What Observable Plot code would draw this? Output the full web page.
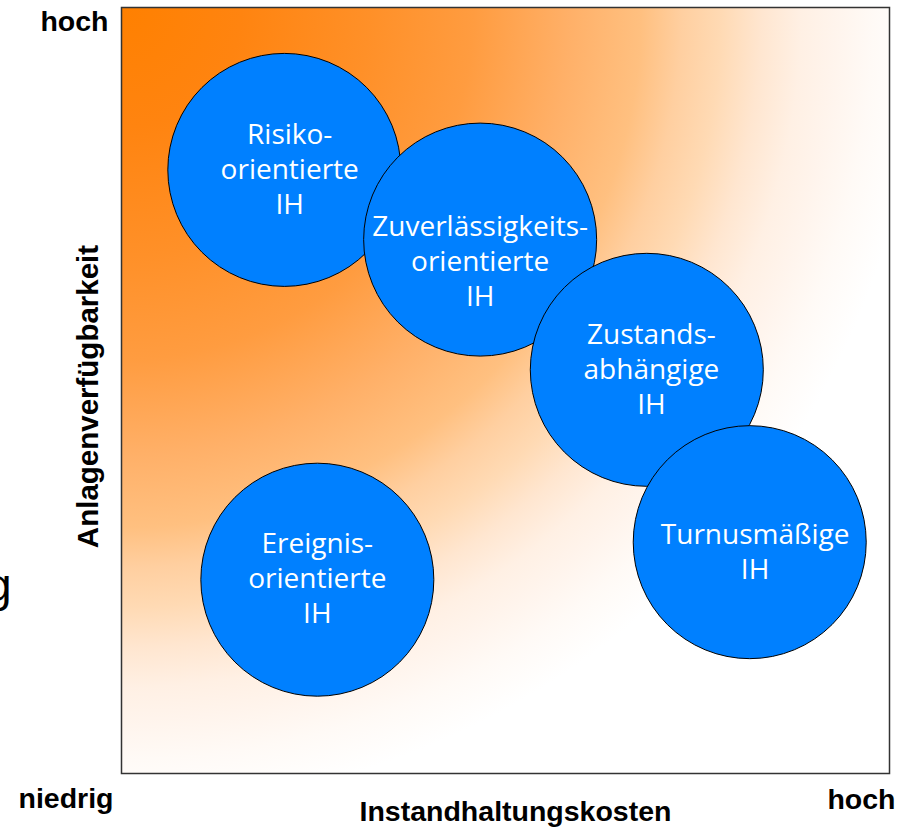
<!DOCTYPE html>
<html>
<head>
<meta charset="utf-8">
<script src="https://cdn.jsdelivr.net/npm/d3@7"></script>
<script src="https://cdn.jsdelivr.net/npm/@observablehq/plot@0.6"></script>
<style>
  html, body { margin: 0; padding: 0; background: #fff; }
  #chart svg { display: block; }
</style>
</head>
<body>
<div id="chart"></div>
<script>
// ---- data ----
const strategies = [
  "Risiko-\norientierte\nIH",
  "Zuverlässigkeits-\norientierte\nIH",
  "Zustands-\nabhängige\nIH",
  "Turnusmäßige\nIH",
  "Ereignis-\norientierte\nIH"
];
// position on a 0–10 scale: x = Instandhaltungskosten, y = Anlagenverfügbarkeit
const costs        = [2.12, 4.67, 6.84, 8.18, 2.55];
const availability = [7.88, 6.97, 5.27, 3.02, 2.53];
// where each label block sits (same scale)
const labelCosts        = [2.19, 4.67, 6.90, 8.25, 2.55];
const labelAvailability = [7.91, 6.71, 5.30, 2.92, 2.57];

const xAxisTitle = "Instandhaltungskosten";
const yAxisTitle = "Anlagenverfügbarkeit";
const lowLabel = "niedrig";
const highLabel = "hoch";
const strayGlyph = "g";
const axisDomain = [0, 10];

// ---- build ----
const data = strategies.map((name, i) => ({
  name, x: costs[i], y: availability[i], lx: labelCosts[i], ly: labelAvailability[i]
}));

const bold = {
  fontFamily: "'Liberation Sans', Arial, sans-serif",
  fontWeight: "bold",
  fontSize: 28.5,
  fill: "black"
};

const plot = Plot.plot({
  width: 913,
  height: 827,
  marginLeft: 121,
  marginRight: 24,
  marginTop: 7,
  marginBottom: 54,
  x: { domain: axisDomain, axis: null },
  y: { domain: axisDomain, axis: null },
  style: { background: "white", overflow: "visible" },
  marks: [
    Plot.frame({ fill: "url(#bgGrad)", stroke: null }),
    Plot.dot(data, {
      x: "x", y: "y", r: 116.5,
      fill: "#0080ff", stroke: "black", strokeWidth: 1, fillOpacity: 1
    }),
    Plot.text(data, {
      x: "lx", y: "ly", text: "name",
      fill: "white", fontSize: 28, lineHeight: 1.25,
      fontFamily: "'Open Sans', 'Noto Sans', sans-serif"
    }),
    Plot.frame({ stroke: "#333", strokeWidth: 1.5 }),
    // axis end labels & titles
    Plot.text([highLabel], { frameAnchor: "top-left", textAnchor: "end", lineAnchor: "bottom", dx: -13, dy: 23, ...bold }),
    Plot.text([lowLabel], { frameAnchor: "bottom-left", textAnchor: "end", lineAnchor: "bottom", dx: -8, dy: 34, ...bold }),
    Plot.text([highLabel], { frameAnchor: "bottom-right", textAnchor: "end", lineAnchor: "bottom", dx: 6, dy: 35, ...bold }),
    Plot.text([xAxisTitle], { frameAnchor: "bottom", textAnchor: "middle", lineAnchor: "bottom", dx: 10, dy: 47, ...bold }),
    Plot.text([yAxisTitle], { frameAnchor: "left", textAnchor: "middle", lineAnchor: "bottom", rotate: -90, dx: -24, dy: 6, ...bold, fontSize: 29.5 }),
    Plot.text([strayGlyph], {
      frameAnchor: "left", textAnchor: "end", lineAnchor: "bottom", dx: -110, dy: 210,
      fontSize: 46, fontFamily: "'Liberation Sans', Arial, sans-serif", fill: "black"
    })
  ]
});

// radial orange gradient anchored at the top-left corner of the frame
const xs = plot.scale("x"), ys = plot.scale("y");
const cx = xs.apply(axisDomain[0]), cy = ys.apply(axisDomain[1]);
const svg = d3.select(plot);
const defs = svg.insert("defs", ":first-child");
const grad = defs.append("radialGradient")
  .attr("id", "bgGrad")
  .attr("gradientUnits", "userSpaceOnUse")
  .attr("cx", cx).attr("cy", cy)
  .attr("fx", cx).attr("fy", cy)
  .attr("r", 800);
[
  [0.00, "#ff8000"],
  [0.15, "#ff8410"],
  [0.31, "#ff9028"],
  [0.44, "#ff9c40"],
  [0.56, "#ffb068"],
  [0.65, "#ffc080"],
  [0.70, "#ffcfa0"],
  [0.75, "#ffdab4"],
  [0.80, "#ffe6d0"],
  [0.85, "#fff0e4"],
  [0.89, "#fff4ec"],
  [0.94, "#fffaf6"],
  [1.00, "#ffffff"]
].forEach(([o, c]) => grad.append("stop").attr("offset", o).attr("stop-color", c));

document.getElementById("chart").appendChild(plot);
</script>
</body>
</html>
